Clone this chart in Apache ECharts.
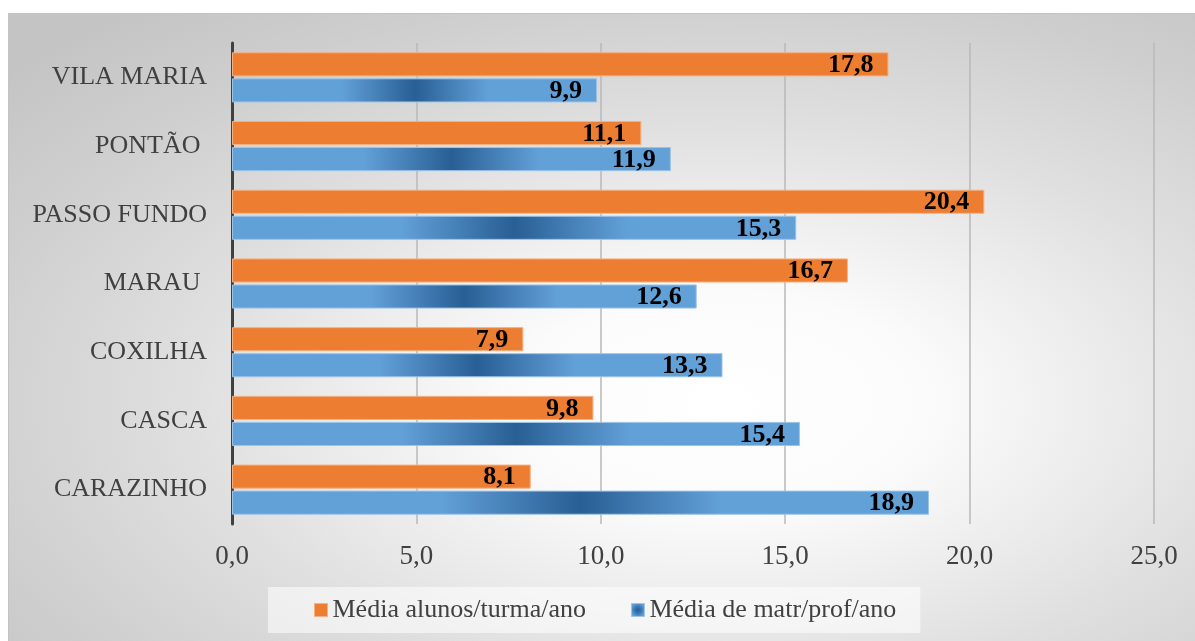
<!DOCTYPE html>
<html>
<head>
<meta charset="utf-8">
<script src="https://cdn.jsdelivr.net/npm/echarts@6/dist/echarts.min.js"></script>
<style>
  html, body { margin: 0; padding: 0; background: #ffffff; }
  #chart { width: 1195px; height: 641px; }
</style>
</head>
<body>
<div id="chart"></div>
<script>
// Municipalities, listed bottom-to-top as they appear on the category axis
const categories = ['CARAZINHO', 'CASCA', 'COXILHA', 'MARAU ', 'PASSO FUNDO', 'PONTÃO ', 'VILA MARIA'];
const seriesNames = ['Média alunos/turma/ano', 'Média de matr/prof/ano'];
const alunosTurma = [8.1, 9.8, 7.9, 16.7, 20.4, 11.1, 17.8];
const matrProf = [18.9, 15.4, 13.3, 12.6, 15.3, 11.9, 9.9];
const axisMax = 25;
const axisStep = 5;

const serif = '"Liberation Serif", "Times New Roman", "DejaVu Serif", serif';
const fmt = v => Number(v).toFixed(1).replace('.', ',');

// Blue bars: light ends with a dark band through the middle of each bar
const blueFill = {
  type: 'linear', x: 0, y: 0, x2: 1, y2: 0,
  colorStops: [
    { offset: 0, color: '#62a0d8' },
    { offset: 0.3, color: '#62a0d8' },
    { offset: 0.5, color: '#285f94' },
    { offset: 0.7, color: '#62a0d8' },
    { offset: 1, color: '#62a0d8' }
  ]
};

const valueLabel = {
  show: true,
  position: 'insideRight',
  distance: 15,
  offset: [0, 1],
  formatter: p => fmt(p.value),
  color: '#000000',
  fontFamily: serif,
  fontWeight: 'bold',
  fontSize: 26
};

const chart = echarts.init(document.getElementById('chart'), null, { renderer: 'canvas' });

// Panel background: an elliptical light spot fading to grey at the edges
const panelW = 1187, panelH = 628;
chart.setOption({
  animation: false,
  backgroundColor: '#ffffff',
  graphic: [
    {
      type: 'rect',
      z: -10,
      silent: true,
      x: 8, y: 13,
      scaleX: panelW / 1000,
      scaleY: panelH / 1000,
      shape: { x: 0, y: 0, width: 1000, height: 1000 },
      style: {
        fill: {
          type: 'radial', x: 0.6, y: 0.62, r: 0.8,
          colorStops: [
            { offset: 0, color: '#ffffff' },
            { offset: 0.22, color: '#fbfbfb' },
            { offset: 0.55, color: '#e0e0e0' },
            { offset: 0.8, color: '#cfcfcf' },
            { offset: 1, color: '#c4c4c4' }
          ]
        }
      }
    },
    {
      type: 'rect',
      z: -9,
      silent: true,
      shape: { x: 8.5, y: 13.5, width: 1195, height: 640 },
      style: { fill: null, stroke: '#c3c3c3', lineWidth: 1 }
    }
  ],
  grid: { left: 232, right: 41, top: 43, bottom: 117, containLabel: false },
  legend: {
    bottom: 8,
    left: 268,
    itemWidth: 13,
    itemHeight: 13,
    itemGap: 45,
    padding: [10, 24, 10, 46],
    backgroundColor: 'rgba(255,255,255,0.55)',
    textStyle: { fontFamily: serif, fontSize: 26, color: '#404040' },
    data: [
      { name: seriesNames[0], icon: 'rect', itemStyle: { color: '#ed7d31', borderColor: '#f4b183', borderWidth: 1 } },
      { name: seriesNames[1], icon: 'rect', itemStyle: {
        color: { type: 'radial', x: 0.5, y: 0.5, r: 0.5, colorStops: [
          { offset: 0, color: '#285f94' }, { offset: 0.5, color: '#3c78b4' }, { offset: 1, color: '#62a0d8' }] },
        borderColor: '#9dc3e6', borderWidth: 1 } }
    ]
  },
  xAxis: {
    type: 'value',
    min: 0,
    max: axisMax,
    interval: axisStep,
    axisLine: { show: false },
    axisTick: { show: false },
    splitLine: { show: true, lineStyle: { color: '#b9b9b9', width: 1.5 } },
    axisLabel: {
      formatter: v => fmt(v),
      fontFamily: serif, fontSize: 27, color: '#404040', margin: 19
    }
  },
  yAxis: {
    type: 'category',
    data: categories,
    axisLine: { show: true, lineStyle: { color: '#404040', width: 3 } },
    axisTick: { show: false },
    axisLabel: { fontFamily: serif, fontSize: 26, color: '#404040', margin: 25 }
  },
  series: [
    {
      name: seriesNames[0],
      type: 'bar',
      data: alunosTurma,
      barGap: '8%',
      barCategoryGap: '27%',
      itemStyle: { color: '#ed7d31', borderColor: '#f4b183', borderWidth: 1 },
      label: valueLabel
    },
    {
      name: seriesNames[1],
      type: 'bar',
      data: matrProf,
      barGap: '8%',
      barCategoryGap: '27%',
      itemStyle: { color: blueFill, borderColor: '#9dc3e6', borderWidth: 1 },
      label: valueLabel
    }
  ]
});
</script>
</body>
</html>
